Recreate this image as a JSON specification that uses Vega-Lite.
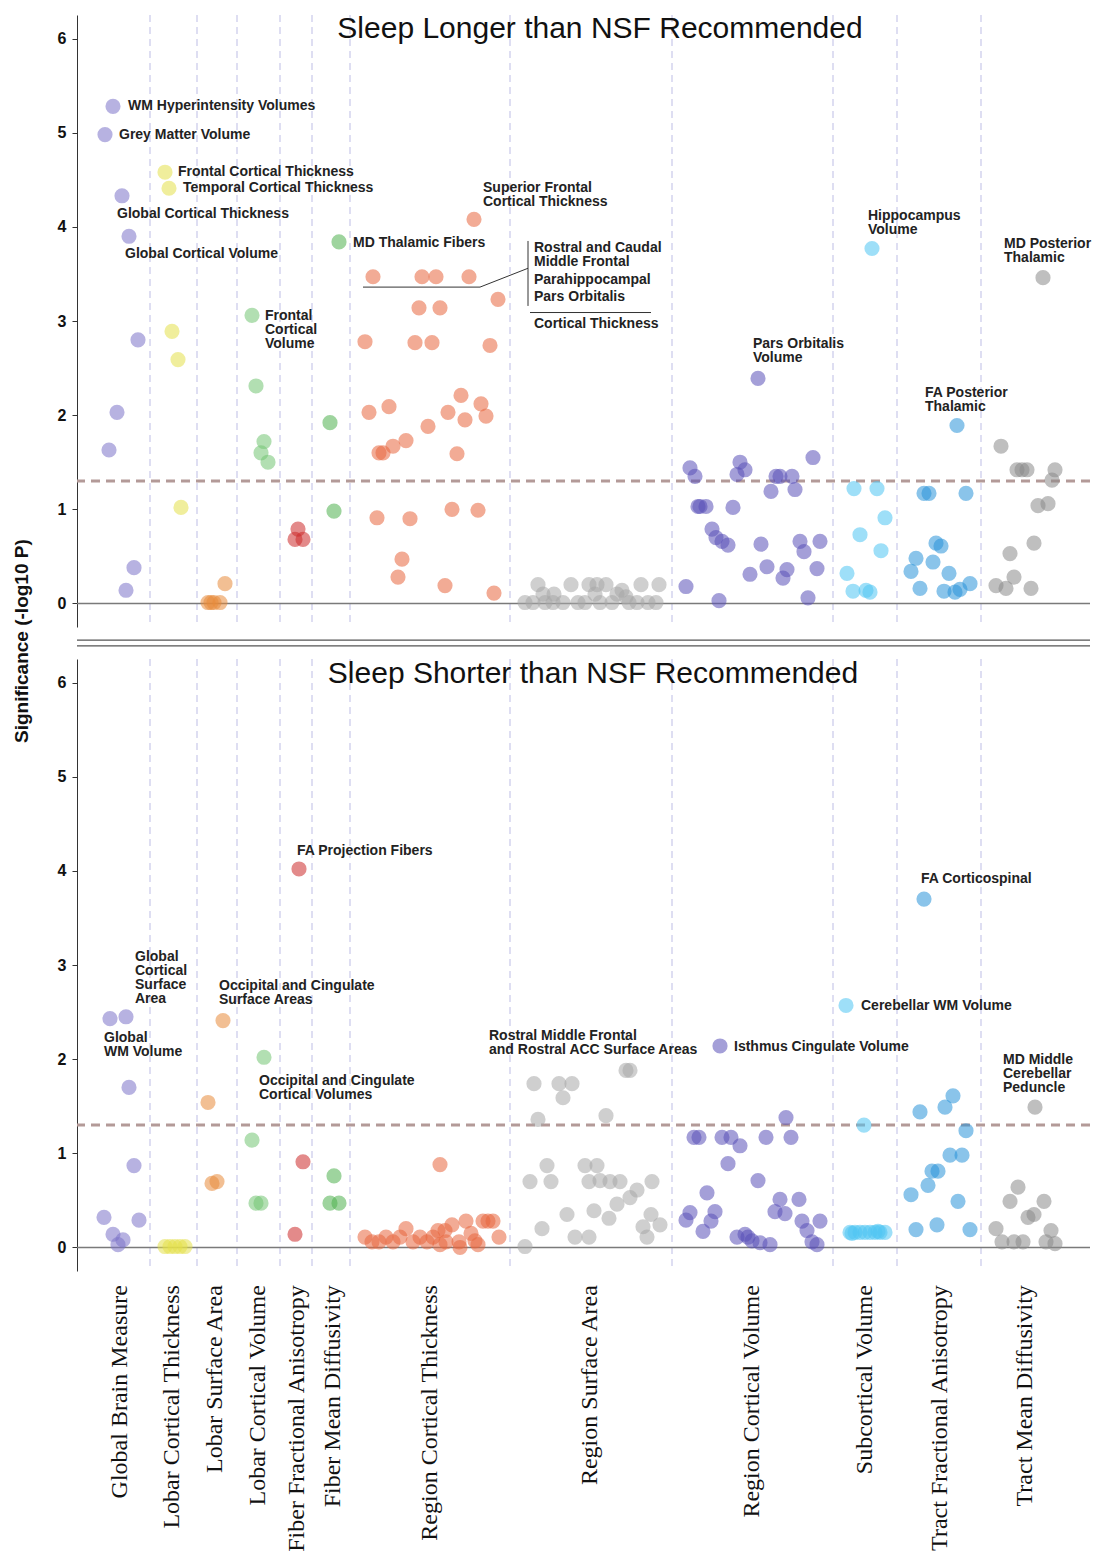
{
"$schema":"https://vega.github.io/schema/vega-lite/v6.json",
"autosize":{"type":"pad"},
"bounds":"flush",
"padding":{"left":13,"top":14,"right":0,"bottom":0},
"background":"white",
"config":{"view":{"stroke":null},"font":"Liberation Sans"},
"datasets":{
"pts":[
{"p":"L","c":"GBM","x":113,"v":5.28},{"p":"L","c":"GBM","x":105,"v":4.98},{"p":"L","c":"GBM","x":122,"v":4.33},{"p":"L","c":"GBM","x":129,"v":3.9},{"p":"L","c":"GBM","x":138,"v":2.8},{"p":"L","c":"GBM","x":117,"v":2.03},{"p":"L","c":"GBM","x":109,"v":1.63},{"p":"L","c":"GBM","x":134,"v":0.38},{"p":"L","c":"GBM","x":126,"v":0.14},
{"p":"L","c":"LCT","x":165,"v":4.58},{"p":"L","c":"LCT","x":169,"v":4.41},{"p":"L","c":"LCT","x":172,"v":2.89},{"p":"L","c":"LCT","x":178,"v":2.59},{"p":"L","c":"LCT","x":181,"v":1.02},
{"p":"L","c":"LSA","x":208,"v":0.01},{"p":"L","c":"LSA","x":214,"v":0.01},{"p":"L","c":"LSA","x":220,"v":0.01},{"p":"L","c":"LSA","x":225,"v":0.21},{"p":"L","c":"LSA","x":211,"v":0.01},
{"p":"L","c":"LCV","x":252,"v":3.06},{"p":"L","c":"LCV","x":256,"v":2.31},{"p":"L","c":"LCV","x":264,"v":1.72},{"p":"L","c":"LCV","x":261,"v":1.6},{"p":"L","c":"LCV","x":268,"v":1.5},
{"p":"L","c":"FFA","x":298,"v":0.79},{"p":"L","c":"FFA","x":295,"v":0.68},{"p":"L","c":"FFA","x":303,"v":0.68},
{"p":"L","c":"FMD","x":339,"v":3.84},{"p":"L","c":"FMD","x":330,"v":1.92},{"p":"L","c":"FMD","x":334,"v":0.98},
{"p":"L","c":"RCT","x":474,"v":4.08},{"p":"L","c":"RCT","x":373,"v":3.47},{"p":"L","c":"RCT","x":422,"v":3.47},{"p":"L","c":"RCT","x":436,"v":3.47},{"p":"L","c":"RCT","x":469,"v":3.47},{"p":"L","c":"RCT","x":498,"v":3.23},{"p":"L","c":"RCT","x":419,"v":3.14},{"p":"L","c":"RCT","x":440,"v":3.14},{"p":"L","c":"RCT","x":365,"v":2.78},{"p":"L","c":"RCT","x":415,"v":2.77},{"p":"L","c":"RCT","x":432,"v":2.77},{"p":"L","c":"RCT","x":490,"v":2.74},{"p":"L","c":"RCT","x":461,"v":2.21},{"p":"L","c":"RCT","x":481,"v":2.12},{"p":"L","c":"RCT","x":389,"v":2.09},{"p":"L","c":"RCT","x":369,"v":2.03},{"p":"L","c":"RCT","x":448,"v":2.03},{"p":"L","c":"RCT","x":465,"v":1.95},{"p":"L","c":"RCT","x":486,"v":1.99},{"p":"L","c":"RCT","x":406,"v":1.73},{"p":"L","c":"RCT","x":393,"v":1.67},{"p":"L","c":"RCT","x":383,"v":1.6},{"p":"L","c":"RCT","x":379,"v":1.6},{"p":"L","c":"RCT","x":428,"v":1.88},{"p":"L","c":"RCT","x":457,"v":1.59},{"p":"L","c":"RCT","x":377,"v":0.91},{"p":"L","c":"RCT","x":410,"v":0.9},{"p":"L","c":"RCT","x":452,"v":1.0},{"p":"L","c":"RCT","x":478,"v":0.99},{"p":"L","c":"RCT","x":402,"v":0.47},{"p":"L","c":"RCT","x":398,"v":0.28},{"p":"L","c":"RCT","x":445,"v":0.19},{"p":"L","c":"RCT","x":494,"v":0.11},
{"p":"L","c":"RSA","x":538,"v":0.2},{"p":"L","c":"RSA","x":571,"v":0.2},{"p":"L","c":"RSA","x":589,"v":0.2},{"p":"L","c":"RSA","x":597,"v":0.2},{"p":"L","c":"RSA","x":606,"v":0.2},{"p":"L","c":"RSA","x":641,"v":0.2},{"p":"L","c":"RSA","x":659,"v":0.2},{"p":"L","c":"RSA","x":554,"v":0.1},{"p":"L","c":"RSA","x":622,"v":0.14},{"p":"L","c":"RSA","x":525,"v":0.01},{"p":"L","c":"RSA","x":533,"v":0.01},{"p":"L","c":"RSA","x":545,"v":0.01},{"p":"L","c":"RSA","x":553,"v":0.01},{"p":"L","c":"RSA","x":563,"v":0.01},{"p":"L","c":"RSA","x":578,"v":0.01},{"p":"L","c":"RSA","x":585,"v":0.01},{"p":"L","c":"RSA","x":600,"v":0.01},{"p":"L","c":"RSA","x":612,"v":0.01},{"p":"L","c":"RSA","x":629,"v":0.01},{"p":"L","c":"RSA","x":637,"v":0.01},{"p":"L","c":"RSA","x":648,"v":0.01},{"p":"L","c":"RSA","x":656,"v":0.01},{"p":"L","c":"RSA","x":617,"v":0.1},{"p":"L","c":"RSA","x":626,"v":0.07},{"p":"L","c":"RSA","x":595,"v":0.1},{"p":"L","c":"RSA","x":543,"v":0.1},
{"p":"L","c":"RCV","x":690,"v":1.44},{"p":"L","c":"RCV","x":695,"v":1.35},{"p":"L","c":"RCV","x":700,"v":1.03},{"p":"L","c":"RCV","x":706,"v":1.03},{"p":"L","c":"RCV","x":698,"v":1.03},{"p":"L","c":"RCV","x":740,"v":1.5},{"p":"L","c":"RCV","x":745,"v":1.42},{"p":"L","c":"RCV","x":737,"v":1.37},{"p":"L","c":"RCV","x":776,"v":1.35},{"p":"L","c":"RCV","x":780,"v":1.35},{"p":"L","c":"RCV","x":792,"v":1.35},{"p":"L","c":"RCV","x":813,"v":1.55},{"p":"L","c":"RCV","x":771,"v":1.19},{"p":"L","c":"RCV","x":795,"v":1.21},{"p":"L","c":"RCV","x":733,"v":1.02},{"p":"L","c":"RCV","x":712,"v":0.79},{"p":"L","c":"RCV","x":716,"v":0.7},{"p":"L","c":"RCV","x":722,"v":0.66},{"p":"L","c":"RCV","x":728,"v":0.62},{"p":"L","c":"RCV","x":761,"v":0.63},{"p":"L","c":"RCV","x":750,"v":0.31},{"p":"L","c":"RCV","x":767,"v":0.39},{"p":"L","c":"RCV","x":787,"v":0.36},{"p":"L","c":"RCV","x":783,"v":0.27},{"p":"L","c":"RCV","x":800,"v":0.66},{"p":"L","c":"RCV","x":820,"v":0.66},{"p":"L","c":"RCV","x":804,"v":0.55},{"p":"L","c":"RCV","x":817,"v":0.37},{"p":"L","c":"RCV","x":808,"v":0.06},{"p":"L","c":"RCV","x":719,"v":0.03},{"p":"L","c":"RCV","x":686,"v":0.18},{"p":"L","c":"RCV","x":758,"v":2.39},
{"p":"L","c":"SCV","x":872,"v":3.77},{"p":"L","c":"SCV","x":854,"v":1.22},{"p":"L","c":"SCV","x":877,"v":1.22},{"p":"L","c":"SCV","x":885,"v":0.91},{"p":"L","c":"SCV","x":860,"v":0.73},{"p":"L","c":"SCV","x":881,"v":0.56},{"p":"L","c":"SCV","x":847,"v":0.32},{"p":"L","c":"SCV","x":853,"v":0.13},{"p":"L","c":"SCV","x":866,"v":0.14},{"p":"L","c":"SCV","x":870,"v":0.12},
{"p":"L","c":"TFA","x":957,"v":1.89},{"p":"L","c":"TFA","x":924,"v":1.17},{"p":"L","c":"TFA","x":929,"v":1.17},{"p":"L","c":"TFA","x":966,"v":1.17},{"p":"L","c":"TFA","x":911,"v":0.34},{"p":"L","c":"TFA","x":916,"v":0.48},{"p":"L","c":"TFA","x":933,"v":0.44},{"p":"L","c":"TFA","x":936,"v":0.64},{"p":"L","c":"TFA","x":941,"v":0.61},{"p":"L","c":"TFA","x":920,"v":0.16},{"p":"L","c":"TFA","x":944,"v":0.13},{"p":"L","c":"TFA","x":955,"v":0.12},{"p":"L","c":"TFA","x":949,"v":0.32},{"p":"L","c":"TFA","x":960,"v":0.15},{"p":"L","c":"TFA","x":970,"v":0.21},
{"p":"L","c":"TMD","x":1043,"v":3.46},{"p":"L","c":"TMD","x":1001,"v":1.67},{"p":"L","c":"TMD","x":1017,"v":1.42},{"p":"L","c":"TMD","x":1022,"v":1.42},{"p":"L","c":"TMD","x":1027,"v":1.42},{"p":"L","c":"TMD","x":1055,"v":1.42},{"p":"L","c":"TMD","x":1052,"v":1.31},{"p":"L","c":"TMD","x":1038,"v":1.04},{"p":"L","c":"TMD","x":1048,"v":1.06},{"p":"L","c":"TMD","x":1034,"v":0.64},{"p":"L","c":"TMD","x":1010,"v":0.53},{"p":"L","c":"TMD","x":1014,"v":0.28},{"p":"L","c":"TMD","x":996,"v":0.19},{"p":"L","c":"TMD","x":1006,"v":0.16},{"p":"L","c":"TMD","x":1031,"v":0.16},
{"p":"S","c":"GBM","x":110,"v":2.43},{"p":"S","c":"GBM","x":126,"v":2.45},{"p":"S","c":"GBM","x":129,"v":1.7},{"p":"S","c":"GBM","x":134,"v":0.87},{"p":"S","c":"GBM","x":104,"v":0.32},{"p":"S","c":"GBM","x":113,"v":0.14},{"p":"S","c":"GBM","x":118,"v":0.03},{"p":"S","c":"GBM","x":123,"v":0.08},{"p":"S","c":"GBM","x":139,"v":0.29},
{"p":"S","c":"LCT","x":165,"v":0.01},{"p":"S","c":"LCT","x":170,"v":0.01},{"p":"S","c":"LCT","x":175,"v":0.01},{"p":"S","c":"LCT","x":180,"v":0.01},{"p":"S","c":"LCT","x":185,"v":0.01},
{"p":"S","c":"LSA","x":223,"v":2.41},{"p":"S","c":"LSA","x":208,"v":1.54},{"p":"S","c":"LSA","x":212,"v":0.68},{"p":"S","c":"LSA","x":217,"v":0.7},
{"p":"S","c":"LCV","x":264,"v":2.02},{"p":"S","c":"LCV","x":252,"v":1.14},{"p":"S","c":"LCV","x":256,"v":0.47},{"p":"S","c":"LCV","x":261,"v":0.47},
{"p":"S","c":"FFA","x":299,"v":4.02},{"p":"S","c":"FFA","x":303,"v":0.91},{"p":"S","c":"FFA","x":295,"v":0.14},
{"p":"S","c":"FMD","x":334,"v":0.76},{"p":"S","c":"FMD","x":330,"v":0.47},{"p":"S","c":"FMD","x":339,"v":0.47},
{"p":"S","c":"RCT","x":440,"v":0.88},{"p":"S","c":"RCT","x":365,"v":0.11},{"p":"S","c":"RCT","x":372,"v":0.06},{"p":"S","c":"RCT","x":379,"v":0.06},{"p":"S","c":"RCT","x":386,"v":0.11},{"p":"S","c":"RCT","x":393,"v":0.06},{"p":"S","c":"RCT","x":400,"v":0.11},{"p":"S","c":"RCT","x":406,"v":0.2},{"p":"S","c":"RCT","x":413,"v":0.06},{"p":"S","c":"RCT","x":420,"v":0.11},{"p":"S","c":"RCT","x":427,"v":0.06},{"p":"S","c":"RCT","x":433,"v":0.11},{"p":"S","c":"RCT","x":440,"v":0.03},{"p":"S","c":"RCT","x":446,"v":0.06},{"p":"S","c":"RCT","x":452,"v":0.24},{"p":"S","c":"RCT","x":459,"v":0.06},{"p":"S","c":"RCT","x":466,"v":0.28},{"p":"S","c":"RCT","x":471,"v":0.15},{"p":"S","c":"RCT","x":478,"v":0.03},{"p":"S","c":"RCT","x":483,"v":0.28},{"p":"S","c":"RCT","x":488,"v":0.28},{"p":"S","c":"RCT","x":493,"v":0.28},{"p":"S","c":"RCT","x":499,"v":0.11},{"p":"S","c":"RCT","x":445,"v":0.18},{"p":"S","c":"RCT","x":460,"v":0.0},{"p":"S","c":"RCT","x":438,"v":0.18},{"p":"S","c":"RCT","x":475,"v":0.07},
{"p":"S","c":"RSA","x":534,"v":1.74},{"p":"S","c":"RSA","x":559,"v":1.74},{"p":"S","c":"RSA","x":572,"v":1.74},{"p":"S","c":"RSA","x":563,"v":1.59},{"p":"S","c":"RSA","x":538,"v":1.36},{"p":"S","c":"RSA","x":606,"v":1.4},{"p":"S","c":"RSA","x":626,"v":1.88},{"p":"S","c":"RSA","x":630,"v":1.88},{"p":"S","c":"RSA","x":547,"v":0.87},{"p":"S","c":"RSA","x":530,"v":0.7},{"p":"S","c":"RSA","x":551,"v":0.7},{"p":"S","c":"RSA","x":585,"v":0.87},{"p":"S","c":"RSA","x":597,"v":0.87},{"p":"S","c":"RSA","x":620,"v":0.7},{"p":"S","c":"RSA","x":610,"v":0.7},{"p":"S","c":"RSA","x":589,"v":0.7},{"p":"S","c":"RSA","x":600,"v":0.71},{"p":"S","c":"RSA","x":652,"v":0.7},{"p":"S","c":"RSA","x":637,"v":0.61},{"p":"S","c":"RSA","x":630,"v":0.53},{"p":"S","c":"RSA","x":617,"v":0.46},{"p":"S","c":"RSA","x":567,"v":0.35},{"p":"S","c":"RSA","x":594,"v":0.39},{"p":"S","c":"RSA","x":609,"v":0.31},{"p":"S","c":"RSA","x":651,"v":0.35},{"p":"S","c":"RSA","x":660,"v":0.24},{"p":"S","c":"RSA","x":643,"v":0.22},{"p":"S","c":"RSA","x":542,"v":0.2},{"p":"S","c":"RSA","x":575,"v":0.11},{"p":"S","c":"RSA","x":589,"v":0.11},{"p":"S","c":"RSA","x":525,"v":0.01},{"p":"S","c":"RSA","x":647,"v":0.11},
{"p":"S","c":"RCV","x":720,"v":2.14},{"p":"S","c":"RCV","x":694,"v":1.17},{"p":"S","c":"RCV","x":699,"v":1.17},{"p":"S","c":"RCV","x":722,"v":1.17},{"p":"S","c":"RCV","x":731,"v":1.17},{"p":"S","c":"RCV","x":766,"v":1.17},{"p":"S","c":"RCV","x":791,"v":1.17},{"p":"S","c":"RCV","x":740,"v":1.08},{"p":"S","c":"RCV","x":786,"v":1.38},{"p":"S","c":"RCV","x":728,"v":0.89},{"p":"S","c":"RCV","x":758,"v":0.71},{"p":"S","c":"RCV","x":707,"v":0.58},{"p":"S","c":"RCV","x":690,"v":0.37},{"p":"S","c":"RCV","x":715,"v":0.38},{"p":"S","c":"RCV","x":686,"v":0.29},{"p":"S","c":"RCV","x":711,"v":0.28},{"p":"S","c":"RCV","x":780,"v":0.51},{"p":"S","c":"RCV","x":799,"v":0.51},{"p":"S","c":"RCV","x":775,"v":0.38},{"p":"S","c":"RCV","x":785,"v":0.36},{"p":"S","c":"RCV","x":802,"v":0.28},{"p":"S","c":"RCV","x":820,"v":0.28},{"p":"S","c":"RCV","x":807,"v":0.18},{"p":"S","c":"RCV","x":703,"v":0.17},{"p":"S","c":"RCV","x":737,"v":0.11},{"p":"S","c":"RCV","x":748,"v":0.11},{"p":"S","c":"RCV","x":752,"v":0.07},{"p":"S","c":"RCV","x":760,"v":0.05},{"p":"S","c":"RCV","x":770,"v":0.03},{"p":"S","c":"RCV","x":745,"v":0.14},{"p":"S","c":"RCV","x":812,"v":0.06},{"p":"S","c":"RCV","x":817,"v":0.03},
{"p":"S","c":"SCV","x":846,"v":2.57},{"p":"S","c":"SCV","x":864,"v":1.3},{"p":"S","c":"SCV","x":850,"v":0.16},{"p":"S","c":"SCV","x":855,"v":0.16},{"p":"S","c":"SCV","x":860,"v":0.16},{"p":"S","c":"SCV","x":865,"v":0.16},{"p":"S","c":"SCV","x":870,"v":0.16},{"p":"S","c":"SCV","x":875,"v":0.16},{"p":"S","c":"SCV","x":880,"v":0.16},{"p":"S","c":"SCV","x":885,"v":0.16},{"p":"S","c":"SCV","x":852,"v":0.15},{"p":"S","c":"SCV","x":878,"v":0.17},
{"p":"S","c":"TFA","x":924,"v":3.7},{"p":"S","c":"TFA","x":953,"v":1.61},{"p":"S","c":"TFA","x":945,"v":1.49},{"p":"S","c":"TFA","x":920,"v":1.44},{"p":"S","c":"TFA","x":966,"v":1.24},{"p":"S","c":"TFA","x":950,"v":0.98},{"p":"S","c":"TFA","x":962,"v":0.98},{"p":"S","c":"TFA","x":938,"v":0.81},{"p":"S","c":"TFA","x":932,"v":0.81},{"p":"S","c":"TFA","x":928,"v":0.66},{"p":"S","c":"TFA","x":911,"v":0.56},{"p":"S","c":"TFA","x":958,"v":0.49},{"p":"S","c":"TFA","x":937,"v":0.24},{"p":"S","c":"TFA","x":916,"v":0.19},{"p":"S","c":"TFA","x":970,"v":0.19},
{"p":"S","c":"TMD","x":1035,"v":1.49},{"p":"S","c":"TMD","x":1018,"v":0.64},{"p":"S","c":"TMD","x":1010,"v":0.49},{"p":"S","c":"TMD","x":1044,"v":0.49},{"p":"S","c":"TMD","x":1034,"v":0.35},{"p":"S","c":"TMD","x":1028,"v":0.32},{"p":"S","c":"TMD","x":996,"v":0.2},{"p":"S","c":"TMD","x":1051,"v":0.18},{"p":"S","c":"TMD","x":1002,"v":0.06},{"p":"S","c":"TMD","x":1023,"v":0.06},{"p":"S","c":"TMD","x":1055,"v":0.04},{"p":"S","c":"TMD","x":1046,"v":0.06},{"p":"S","c":"TMD","x":1014,"v":0.06}
],
"labels":[
{"p":"L","t":"WM Hyperintensity Volumes","x":128,"v":5.28},
{"p":"L","t":"Grey Matter Volume","x":119,"v":4.98},
{"p":"L","t":"Frontal Cortical Thickness","x":178,"v":4.58},
{"p":"L","t":"Temporal Cortical Thickness","x":183,"v":4.41},
{"p":"L","t":"Global Cortical Thickness","x":117,"v":4.14},
{"p":"L","t":"Global Cortical Volume","x":125,"v":3.71},
{"p":"L","t":"MD Thalamic Fibers","x":353,"v":3.83},
{"p":"L","t":"Superior Frontal\nCortical Thickness","x":483,"v":4.41},
{"p":"L","t":"Frontal\nCortical\nVolume","x":265,"v":3.05},
{"p":"L","t":"Rostral and Caudal\nMiddle Frontal","x":534,"v":3.78},
{"p":"L","t":"Parahippocampal","x":534,"v":3.44},
{"p":"L","t":"Pars Orbitalis","x":534,"v":3.25},
{"p":"L","t":"Cortical Thickness","x":534,"v":2.97},
{"p":"L","t":"Hippocampus\nVolume","x":868,"v":4.12},
{"p":"L","t":"MD Posterior\nThalamic","x":1004,"v":3.82},
{"p":"L","t":"Pars Orbitalis\nVolume","x":753,"v":2.76},
{"p":"L","t":"FA Posterior\nThalamic","x":925,"v":2.23},
{"p":"S","t":"Global\nCortical\nSurface\nArea","x":135,"v":3.08},
{"p":"S","t":"Global\nWM Volume","x":104,"v":2.22},
{"p":"S","t":"Occipital and Cingulate\nSurface Areas","x":219,"v":2.78},
{"p":"S","t":"Occipital and Cingulate\nCortical Volumes","x":259,"v":1.77},
{"p":"S","t":"FA Projection Fibers","x":297,"v":4.21},
{"p":"S","t":"Rostral Middle Frontal\n and Rostral ACC Surface Areas","x":489,"v":2.25},
{"p":"S","t":"Isthmus Cingulate Volume","x":734,"v":2.13},
{"p":"S","t":"Cerebellar WM Volume","x":861,"v":2.56},
{"p":"S","t":"FA Corticospinal","x":921,"v":3.91},
{"p":"S","t":"MD Middle\nCerebellar\nPeduncle","x":1003,"v":1.99}
],
"seps":[{"x":150},{"x":197},{"x":237},{"x":280},{"x":312},{"x":350},{"x":510},{"x":672},{"x":833},{"x":897},{"x":981}],
"brackets":[
{"x":528,"x2":528,"v":3.85,"v2":3.16},
{"x":363,"x2":480,"v":3.36,"v2":3.36},
{"x":480,"x2":528,"v":3.36,"v2":3.56},
{"x":530,"x2":651,"v":3.09,"v2":3.09}
],
"cats":[
{"t":"Global Brain Measure","x":120},{"t":"Lobar Cortical Thickness","x":172},{"t":"Lobar Surface Area","x":215},{"t":"Lobar Cortical Volume","x":258},{"t":"Fiber Fractional Anisotropy","x":297},{"t":"Fiber Mean Diffusivity","x":333},{"t":"Region Cortical Thickness","x":430},{"t":"Region Surface Area","x":590},{"t":"Region Cortical Volume","x":752},{"t":"Subcortical Volume","x":865},{"t":"Tract Fractional Anisotropy","x":940},{"t":"Tract Mean Diffusivity","x":1025}
]
},
"vconcat":[
{"width":1013,"height":612,
"layer":[
{"data":{"name":"seps"},"mark":{"type":"rule","color":"#c9c9ea","strokeDash":[7,5],"strokeWidth":1.2},"encoding":{"x":{"field":"x","type":"quantitative","scale":{"domain":[77,1090],"nice":false,"zero":false},"axis":null}}},
{"data":{"values":[{"v":0}]},"mark":{"type":"rule","color":"#7a7a7a","strokeWidth":1.5},"encoding":{"y":{"field":"v","type":"quantitative"}}},
{"data":{"values":[{"v":1.3}]},"mark":{"type":"rule","color":"#b39a98","strokeDash":[9,6],"strokeWidth":3},"encoding":{"y":{"field":"v","type":"quantitative"}}},
{"data":{"values":[{"v":-0.39},{"v":-0.45}]},"mark":{"type":"rule","color":"#555","strokeWidth":1.3},"encoding":{"y":{"field":"v","type":"quantitative"}}},
{"data":{"name":"brackets"},"mark":{"type":"rule","color":"#333","strokeWidth":1},"encoding":{"x":{"field":"x","type":"quantitative"},"x2":{"field":"x2"},"y":{"field":"v","type":"quantitative"},"y2":{"field":"v2"}}},
{"data":{"name":"pts"},"transform":[{"filter":"datum.p==='L'"}],"mark":{"type":"circle","size":230,"opacity":0.55},
"encoding":{"x":{"field":"x","type":"quantitative"},
"y":{"field":"v","type":"quantitative","scale":{"domain":[-0.25,6.25],"nice":false,"zero":false},"axis":{"values":[0,1,2,3,4,5,6],"format":"d","title":null,"grid":false,"domainColor":"#333","tickColor":"#333","labelFontSize":16,"labelFontWeight":"bold","labelColor":"#111","labelPadding":6,"tickSize":5}},
"color":{"field":"c","type":"nominal","legend":null,"scale":{"domain":["GBM","LCT","LSA","LCV","FFA","FMD","RCT","RSA","RCV","SCV","TFA","TMD"],"range":["#7b72c9","#e4e04a","#e88a3a","#72c472","#cc2a2a","#4fb14f","#e8663e","#a8a8a8","#5a50b8","#4ec4f2","#2a93d9","#8a8a8a"]}}}},
{"data":{"name":"labels"},"transform":[{"filter":"datum.p==='L'"}],"mark":{"type":"text","align":"left","baseline":"middle","fontSize":14,"fontWeight":"bold","lineHeight":14,"lineBreak":"\n","color":"#222","font":"Liberation Sans"},"encoding":{"x":{"field":"x","type":"quantitative"},"y":{"field":"v","type":"quantitative"},"text":{"field":"t"}}},
{"data":{"values":[{"t":"Sleep Longer than NSF Recommended","x":600,"v":6.1}]},"mark":{"type":"text","fontSize":30,"color":"#111","baseline":"middle"},"encoding":{"x":{"field":"x","type":"quantitative"},"y":{"field":"v","type":"quantitative"},"text":{"field":"t"}}},
{"data":{"values":[{"t":"Significance (-log10 P)","x":22,"v":-0.4}]},"mark":{"type":"text","fontSize":19,"fontWeight":"bold","angle":270,"color":"#111","baseline":"middle"},"encoding":{"x":{"field":"x","type":"quantitative"},"y":{"field":"v","type":"quantitative"},"text":{"field":"t"}}}
]},
{"width":1013,"height":612,
"layer":[
{"data":{"name":"seps"},"mark":{"type":"rule","color":"#c9c9ea","strokeDash":[7,5],"strokeWidth":1.2},"encoding":{"x":{"field":"x","type":"quantitative","scale":{"domain":[77,1090],"nice":false,"zero":false},"axis":null}}},
{"data":{"values":[{"v":0}]},"mark":{"type":"rule","color":"#7a7a7a","strokeWidth":1.5},"encoding":{"y":{"field":"v","type":"quantitative"}}},
{"data":{"values":[{"v":1.3}]},"mark":{"type":"rule","color":"#b39a98","strokeDash":[9,6],"strokeWidth":3},"encoding":{"y":{"field":"v","type":"quantitative"}}},
{"data":{"name":"pts"},"transform":[{"filter":"datum.p==='S'"}],"mark":{"type":"circle","size":230,"opacity":0.55},
"encoding":{"x":{"field":"x","type":"quantitative"},
"y":{"field":"v","type":"quantitative","scale":{"domain":[-0.25,6.25],"nice":false,"zero":false},"axis":{"values":[0,1,2,3,4,5,6],"format":"d","title":null,"grid":false,"domainColor":"#333","tickColor":"#333","labelFontSize":16,"labelFontWeight":"bold","labelColor":"#111","labelPadding":6,"tickSize":5}},
"color":{"field":"c","type":"nominal","legend":null,"scale":{"domain":["GBM","LCT","LSA","LCV","FFA","FMD","RCT","RSA","RCV","SCV","TFA","TMD"],"range":["#7b72c9","#e4e04a","#e88a3a","#72c472","#cc2a2a","#4fb14f","#e8663e","#a8a8a8","#5a50b8","#4ec4f2","#2a93d9","#8a8a8a"]}}}},
{"data":{"name":"labels"},"transform":[{"filter":"datum.p==='S'"}],"mark":{"type":"text","align":"left","baseline":"middle","fontSize":14,"fontWeight":"bold","lineHeight":14,"lineBreak":"\n","color":"#222","font":"Liberation Sans"},"encoding":{"x":{"field":"x","type":"quantitative"},"y":{"field":"v","type":"quantitative"},"text":{"field":"t"}}},
{"data":{"values":[{"t":"Sleep Shorter than NSF Recommended","x":593,"v":6.09}]},"mark":{"type":"text","fontSize":30,"color":"#111","baseline":"middle"},"encoding":{"x":{"field":"x","type":"quantitative"},"y":{"field":"v","type":"quantitative"},"text":{"field":"t"}}},
{"data":{"name":"cats"},"mark":{"type":"text","angle":270,"align":"right","baseline":"middle","fontSize":24,"font":"Liberation Serif","color":"#111"},"encoding":{"x":{"field":"x","type":"quantitative"},"y":{"datum":-0.4,"type":"quantitative"},"text":{"field":"t"}}}
]}
],
"spacing":32
}
